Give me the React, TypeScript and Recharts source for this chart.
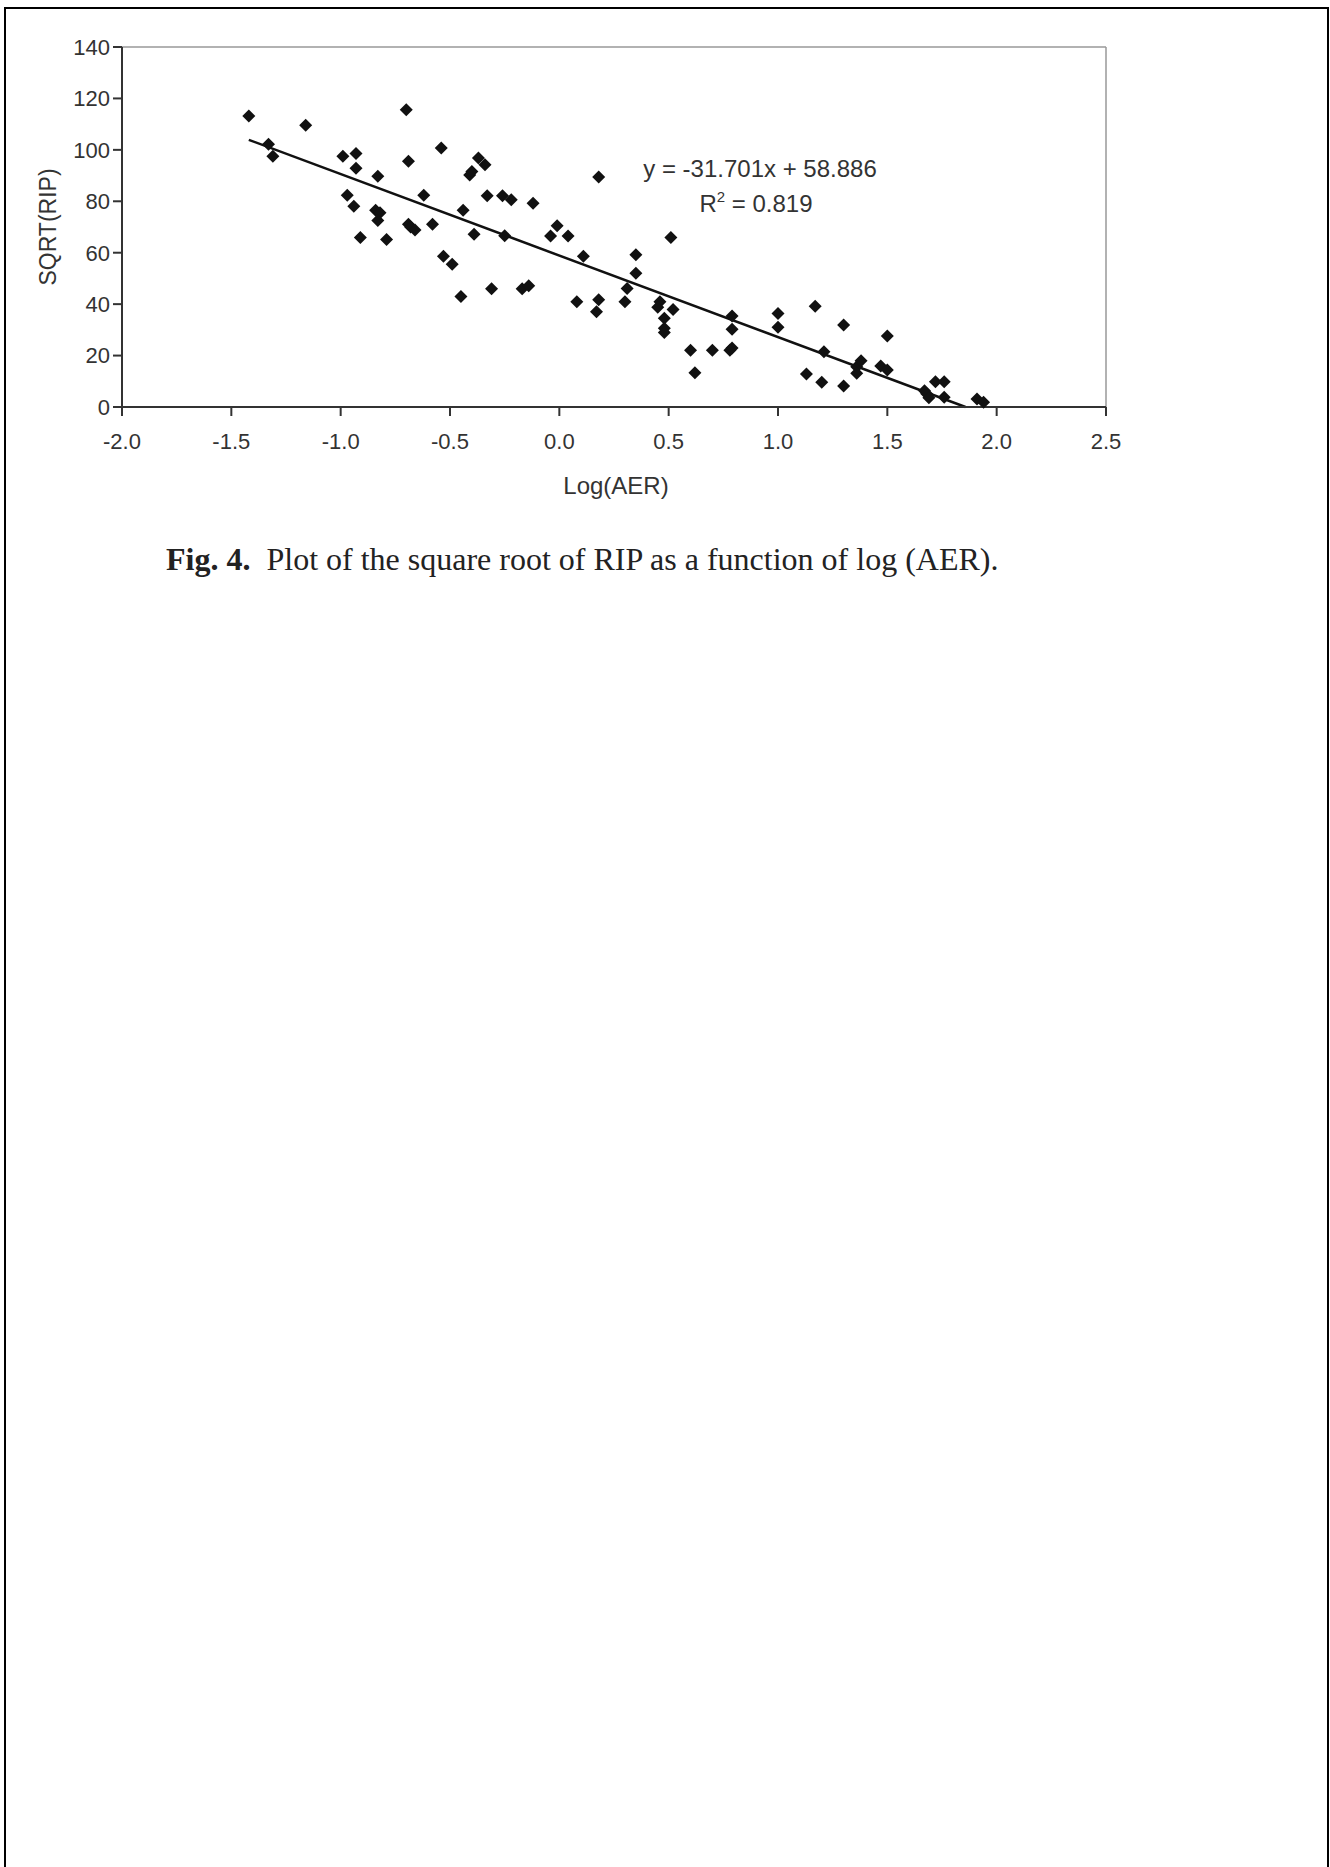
import {
    ScatterChart,
    Scatter,
    XAxis,
    YAxis,
    ReferenceLine,
} from 'recharts'

// log(AER) values
const logAer = [
    -1.42, -1.33, -1.31, -1.16, -0.99, -0.97, -0.93, -0.93, -0.94, -0.91,
    -0.83, -0.84, -0.82, -0.83, -0.79, -0.70, -0.69, -0.69, -0.68, -0.66,
    -0.62, -0.58, -0.54, -0.53, -0.49, -0.45, -0.44, -0.41, -0.40, -0.39,
    -0.37, -0.34, -0.33, -0.31, -0.26, -0.25, -0.22, -0.17, -0.14, -0.12,
    -0.04, -0.01, 0.04, 0.08, 0.11, 0.18, 0.18, 0.17, 0.31, 0.30,
    0.35, 0.35, 0.46, 0.45, 0.52, 0.48, 0.48, 0.48, 0.51, 0.60,
    0.62, 0.70, 0.78, 0.79, 0.79, 0.79, 1.00, 1.00, 1.13, 1.17,
    1.20, 1.21, 1.30, 1.30, 1.36, 1.36, 1.38, 1.47, 1.50, 1.50,
    1.67, 1.68, 1.69, 1.72, 1.76, 1.76, 1.91, 1.94,
]

// sqrt(RIP) values, same order
const sqrtRip = [
    113.2, 102.2, 97.5, 109.6, 97.5, 82.3, 98.6, 92.8, 78.1, 65.9,
    89.7, 76.5, 75.5, 72.5, 65.1, 115.6, 95.6, 71.1, 70.0, 68.8,
    82.3, 71.1, 100.7, 58.6, 55.5, 43.0, 76.5, 90.2, 91.6, 67.2,
    96.8, 94.2, 82.2, 46.0, 82.2, 66.6, 80.6, 46.0, 47.2, 79.2,
    66.5, 70.5, 66.5, 40.9, 58.6, 89.4, 41.7, 37.0, 46.1, 40.9,
    59.2, 52.0, 40.9, 38.8, 37.9, 34.5, 30.6, 29.0, 65.9, 22.1,
    13.3, 22.1, 22.1, 22.9, 35.4, 30.2, 36.4, 31.0, 12.8, 39.2,
    9.6, 21.5, 31.9, 8.2, 15.7, 13.1, 18.0, 15.9, 14.4, 27.6,
    6.3, 5.2, 3.6, 9.8, 9.8, 3.8, 3.1, 1.8,
]

const xTicks = [-2.0, -1.5, -1.0, -0.5, 0.0, 0.5, 1.0, 1.5, 2.0, 2.5]
const yTicks = [0, 20, 40, 60, 80, 100, 120, 140]

// fitted line as printed on the chart
const slope = -31.701
const intercept = 58.886
const trendFrom = -1.42
const trendTo = 1.8576

const points = logAer.map((x, i) => ({ x, y: sqrtRip[i] }))

const sans = '"Liberation Sans", Arial, sans-serif'
const ink = '#333'

function Diamond(props: any) {
    const { cx, cy } = props
    const r = 6.5
    return <path d={`M${cx},${cy - r}L${cx + r},${cy}L${cx},${cy + r}L${cx - r},${cy}Z`} fill="#111" />
}

export default function App() {
    return (
        <div style={{ position: 'absolute', left: 0, top: 0, width: 1330, height: 1867, background: '#fff' }}>
            <div
                style={{
                    position: 'absolute',
                    left: 4,
                    top: 7,
                    width: 1325,
                    height: 1860,
                    boxSizing: 'border-box',
                    borderLeft: '2.5px solid #000',
                    borderTop: '2.5px solid #000',
                    borderRight: '2.5px solid #000',
                }}
            />
            <div style={{ position: 'absolute', left: 0, top: 0 }}>
                <ScatterChart width={1330} height={620} margin={{ top: 47, right: 224, bottom: 163, left: 42 }}>
                    <XAxis
                        type="number"
                        dataKey="x"
                        domain={[-2, 2.5]}
                        ticks={xTicks}
                        tickFormatter={(v: number) => v.toFixed(1)}
                        height={50}
                        tickSize={9}
                        tickMargin={17}
                        axisLine={{ stroke: ink, strokeWidth: 2 }}
                        tickLine={{ stroke: ink, strokeWidth: 2 }}
                        tick={{ fill: ink, fontSize: 22, fontFamily: sans }}
                    />
                    <YAxis
                        type="number"
                        dataKey="y"
                        domain={[0, 140]}
                        ticks={yTicks}
                        width={80}
                        tickSize={9}
                        tickMargin={3}
                        axisLine={{ stroke: ink, strokeWidth: 2 }}
                        tickLine={{ stroke: ink, strokeWidth: 2 }}
                        tick={{ fill: ink, fontSize: 22, fontFamily: sans }}
                    />
                    <ReferenceLine y={140} stroke="#999" strokeWidth={1.5} />
                    <ReferenceLine x={2.5} stroke="#999" strokeWidth={1.5} />
                    <ReferenceLine
                        segment={[
                            { x: trendFrom, y: slope * trendFrom + intercept },
                            { x: trendTo, y: slope * trendTo + intercept },
                        ]}
                        stroke="#111"
                        strokeWidth={2.5}
                        ifOverflow="visible"
                    />
                    <Scatter data={points} shape={Diamond} isAnimationActive={false} />
                </ScatterChart>
            </div>

            <div
                style={{
                    position: 'absolute',
                    left: 48,
                    top: 227,
                    transform: 'translate(-50%, -50%) rotate(-90deg)',
                    fontFamily: sans,
                    fontSize: 23,
                    color: ink,
                    whiteSpace: 'nowrap',
                    lineHeight: 1,
                }}
            >
                SQRT(RIP)
            </div>

            <div
                style={{
                    position: 'absolute',
                    left: 616,
                    top: 486,
                    transform: 'translate(-50%, -50%)',
                    fontFamily: sans,
                    fontSize: 24,
                    color: ink,
                    whiteSpace: 'nowrap',
                    lineHeight: 1,
                }}
            >
                Log(AER)
            </div>

            <div
                style={{
                    position: 'absolute',
                    left: 760,
                    top: 169,
                    transform: 'translate(-50%, -50%)',
                    fontFamily: sans,
                    fontSize: 24,
                    color: ink,
                    whiteSpace: 'nowrap',
                    lineHeight: 1,
                }}
            >
                y = -31.701x + 58.886
            </div>
            <div
                style={{
                    position: 'absolute',
                    left: 756,
                    top: 204,
                    transform: 'translate(-50%, -50%)',
                    fontFamily: sans,
                    fontSize: 24,
                    color: ink,
                    whiteSpace: 'nowrap',
                    lineHeight: 1,
                }}
            >
                R<sup style={{ fontSize: 15, verticalAlign: 'top', position: 'relative', top: -3 }}>2</sup> = 0.819
            </div>

            <div
                style={{
                    position: 'absolute',
                    left: 166,
                    top: 543,
                    fontFamily: '"Liberation Serif", "Times New Roman", serif',
                    fontSize: 32,
                    color: '#222',
                    whiteSpace: 'nowrap',
                    lineHeight: 1,
                }}
            >
                <b>Fig. 4.</b>&nbsp; Plot of the square root of RIP as a function of log (AER).
            </div>
        </div>
    )
}
